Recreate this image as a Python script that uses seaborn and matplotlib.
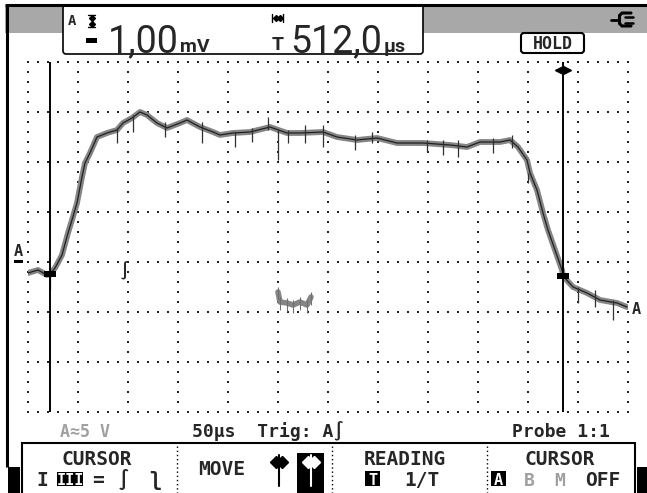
import matplotlib
matplotlib.use("Agg")
import matplotlib.pyplot as plt
from matplotlib import font_manager
from matplotlib.patches import Rectangle, FancyBboxPatch
import numpy as np
import pandas as pd
import seaborn as sns

# scope trace: time in us (50 us/div), level in mV (1 mV/div)
trace_t = [0, 10, 19, 22, 27, 34, 40, 44, 49, 54, 57, 62, 69, 79, 89, 95, 104, 112,
           119, 129, 139, 152, 159, 172, 185, 192, 205, 222, 242, 259, 272, 295, 309,
           329, 349, 369, 395, 422, 439, 452, 472, 482, 490, 499, 502, 509, 515, 520,
           527, 534, 535, 545, 559, 572, 589, 599]
trace_mv = [-0.22, -0.16, -0.26, -0.24, -0.12, 0.14, 0.58, 0.84, 1.18, 1.70, 1.98, 2.18,
            2.50, 2.58, 2.64, 2.78, 2.88, 3.00, 2.94, 2.78, 2.68, 2.78, 2.84, 2.70, 2.60,
            2.54, 2.58, 2.60, 2.70, 2.58, 2.58, 2.60, 2.50, 2.44, 2.48, 2.38, 2.38, 2.34,
            2.30, 2.40, 2.40, 2.44, 2.30, 2.04, 1.78, 1.44, 0.98, 0.64, 0.24, -0.16,
            -0.28, -0.50, -0.62, -0.76, -0.82, -0.90]

# noise spikes on the trace
spike_t = [22, 89, 105, 137, 174, 207, 224, 240, 250, 260, 277, 295, 327, 344, 399,
           415, 430, 465, 484, 500, 550, 567, 585]
spike_hi = [-0.12, 2.68, 2.94, 2.80, 2.80, 2.60, 2.68, 2.90, 2.64, 2.64, 2.74, 2.74,
            2.54, 2.60, 2.44, 2.44, 2.44, 2.48, 2.54, 1.78, -0.50, -0.56, -0.76]
spike_lo = [-0.56, 2.38, 2.60, 2.50, 2.38, 2.30, 2.40, 2.64, 2.04, 2.38, 2.38, 2.30,
            2.24, 2.38, 2.20, 2.14, 2.10, 2.18, 2.28, 1.58, -0.82, -0.90, -1.16]

# grey reference fragment
ref_t = [250, 252, 259, 265, 272, 279, 283]
ref_mv = [-0.60, -0.80, -0.82, -0.86, -0.80, -0.86, -0.70]

cursor_t = [22, 535]
cursor_mv = [-0.24, -0.28]
trig_t = 97
trig_mv = -0.16

volts_div = "1,00"
time_delta = "512,0"

sns.set_theme(style="white")
plt.rcParams['font.family'] = ['DejaVu Sans']

names = {f.name for f in font_manager.fontManager.ttflist}
BIG = 'Roboto' if 'Roboto' in names else 'DejaVu Sans'
MONO = ['DejaVu Sans Mono', 'DejaVu Sans']
GREY = '#a8a8a8'
TRACE = '#858585'

fig = plt.figure(figsize=(6.47, 4.93), dpi=100)
fig.patch.set_facecolor('white')

# whole-screen axes in pixel units for the frame and soft keys
bg = fig.add_axes([0, 0, 1, 1])
bg.set_xlim(0, 647)
bg.set_ylim(493, 0)
bg.axis('off')

# header
bg.add_patch(Rectangle((5, 6), 642, 26.5, fc=GREY, ec='none'))
bg.plot([5, 647], [4.5, 4.5], color='black', lw=2.2, solid_capstyle='butt')
bg.plot([6.5, 6.5], [3.5, 467], color='black', lw=2.2, solid_capstyle='butt')
bg.add_patch(FancyBboxPatch((63, 5), 360, 49, boxstyle='round,pad=0,rounding_size=3',
                            fc='white', ec='black', lw=1.2))
bg.text(72, 25, 'A', fontfamily=MONO, fontweight='bold', fontsize=10, ha='center', va='baseline')
bg.plot([88, 95], [15, 15], color='black', lw=1)
bg.plot([88, 95], [27, 27], color='black', lw=1)
bg.plot([91.5, 91.5], [15, 27], color='black', lw=1)
bg.plot([91.5, 91.5], [18, 24], color='black', lw=0, marker='D', ms=3)
bg.add_patch(Rectangle((86, 38), 11, 4.5, fc='black', ec='none'))
bg.text(108, 52, volts_div, fontfamily=BIG, fontsize=27, ha='left', va='baseline')
bg.text(180, 52, 'mV', fontfamily=BIG, fontweight='bold', fontsize=14, ha='left', va='baseline')
bg.plot([272, 272], [14, 22], color='black', lw=1)
bg.plot([283, 283], [14, 22], color='black', lw=1)
bg.plot([274, 281], [18, 18], color='black', lw=1)
bg.plot([275.5, 279.5], [18, 18], color='black', lw=0, marker='D', ms=3)
bg.text(277.5, 50, 'T', fontfamily=BIG, fontweight='bold', fontsize=14, ha='center', va='baseline')
bg.text(290, 52, time_delta, fontfamily=BIG, fontsize=27, ha='left', va='baseline')
bg.text(384, 52, 'µs', fontfamily=BIG, fontweight='bold', fontsize=14, ha='left', va='baseline')

# mains plug icon
bg.plot([611, 619], [19.5, 19.5], color='black', lw=2)
bg.plot([631, 622, 619.5, 619.5, 622, 631], [13, 13, 15.5, 23.5, 26, 26], color='black',
        lw=2.2, solid_joinstyle='miter')
bg.plot([625, 633], [16.5, 16.5], color='black', lw=1.8)
bg.plot([625, 633], [22.5, 22.5], color='black', lw=1.8)

bg.add_patch(FancyBboxPatch((521, 33), 63, 20, boxstyle='round,pad=0,rounding_size=3',
                            fc='white', ec='black', lw=1.5))
bg.text(552.5, 49, 'HOLD', fontfamily=MONO, fontweight='bold', fontsize=12, ha='center', va='baseline')

# channel markers
bg.text(18.5, 256, 'A', fontfamily=MONO, fontweight='bold', fontsize=11, ha='center', va='baseline')
bg.add_patch(Rectangle((14, 259.5), 9, 3.5, fc='black', ec='none'))
bg.text(636, 314, 'A', fontfamily=MONO, fontweight='bold', fontsize=11, ha='center', va='baseline')

# status line
bg.text(85, 437, 'A≈5 V', fontfamily=MONO, fontweight='bold', fontsize=12, color='#a0a0a0',
        ha='center', va='baseline')
bg.text(268, 437, '50µs  Trig: A∫', fontfamily=MONO, fontweight='bold', fontsize=13,
        ha='center', va='baseline')
bg.text(561, 437, 'Probe 1:1', fontfamily=MONO, fontweight='bold', fontsize=13,
        ha='center', va='baseline')

# soft key bar
bg.add_patch(Rectangle((22, 443), 613, 60, fc='white', ec='black', lw=1.5))
bg.add_patch(Rectangle((8, 467), 12, 26, fc='black', ec='none'))
bg.add_patch(Rectangle((637, 467), 10, 26, fc='black', ec='none'))
for sx in [177, 332, 487]:
    bg.plot([sx, sx], [446, 493], color='black', lw=1, ls=(0, (1, 2)))

key = dict(fontfamily=MONO, fontweight='bold', fontsize=14, ha='center', va='baseline')
bg.text(97, 465, 'CURSOR', **key)
bg.text(42, 486, 'I', **key)
bg.add_patch(Rectangle((57, 472), 26, 14, fc='black', ec='none'))
bg.text(70, 485, 'III', fontfamily=MONO, fontweight='bold', fontsize=11, color='white',
        ha='center', va='baseline')
bg.text(98, 486, '=', **key)
bg.text(124, 486, '∫', **key)
bg.text(155, 486, 'ʅ', **key)

bg.text(222, 475, 'MOVE', **key)
bg.plot([279, 279], [455, 486], color='black', lw=1.5)
bg.plot([276, 282], [462, 462], color='black', lw=0, marker='D', ms=6)
bg.add_patch(Rectangle((297, 453), 27, 40, fc='black', ec='none'))
bg.plot([310.5, 310.5], [455, 486], color='white', lw=1.5)
bg.plot([307.5, 313.5], [462, 462], color='white', lw=0, marker='D', ms=6)

bg.text(405, 465, 'READING', **key)
bg.add_patch(Rectangle((365, 471), 15, 15, fc='black', ec='none'))
bg.text(372.5, 485, 'T', fontfamily=MONO, fontweight='bold', fontsize=11, color='white',
        ha='center', va='baseline')
bg.text(422, 486, '1/T', **key)

bg.text(560, 465, 'CURSOR', **key)
bg.add_patch(Rectangle((491, 471), 15, 15, fc='black', ec='none'))
bg.text(498.5, 485, 'A', fontfamily=MONO, fontweight='bold', fontsize=11, color='white',
        ha='center', va='baseline')
bg.text(529, 486, 'B', fontfamily=MONO, fontweight='bold', fontsize=13, color='#a0a0a0',
        ha='center', va='baseline')
bg.text(560, 486, 'M', fontfamily=MONO, fontweight='bold', fontsize=13, color='#a0a0a0',
        ha='center', va='baseline')
bg.text(603, 486, 'OFF', **key)

# graticule axes: 12 x 7 divisions
ax = fig.add_axes([28 / 647, 81 / 493, 600 / 647, 350 / 493])
ax.set_zorder(2)
ax.set_xlim(0, 600)
ax.set_ylim(-3, 4)
ax.axis('off')

hx = np.arange(0, 601, 10)
vy = np.linspace(-3, 4, 36)
gx = np.concatenate([np.tile(hx, 8), np.repeat(np.arange(0, 601, 50), len(vy))])
gy = np.concatenate([np.repeat(np.arange(-3, 5), len(hx)), np.tile(vy, 13)])
ax.scatter(gx, gy, marker='s', s=2.0, color='#222222', linewidths=0, clip_on=False)

df = pd.DataFrame({'t': trace_t, 'mv': trace_mv})
sns.lineplot(data=df, x='t', y='mv', sort=False, ax=ax, color=TRACE, lw=4.2, zorder=3)
sns.lineplot(data=df, x='t', y='mv', sort=False, ax=ax, color='#202020', lw=0.9, zorder=4)
ax.vlines(spike_t, spike_lo, spike_hi, color='#303030', lw=0.9, zorder=4)

ref = pd.DataFrame({'t': ref_t, 'mv': ref_mv})
sns.lineplot(data=ref, x='t', y='mv', sort=False, ax=ax, color=TRACE, lw=4, zorder=3)
ax.vlines(ref_t, np.array(ref_mv) - 0.15, np.array(ref_mv) + 0.1, color='#707070', lw=0.8, zorder=3)

for ct in cursor_t:
    ax.axvline(ct, color='black', lw=1.4, zorder=5)
rect = [(-1, -0.45), (1, -0.45), (1, 0.45), (-1, 0.45)]
sns.scatterplot(x=cursor_t, y=cursor_mv, marker=rect, s=75, color='black', linewidth=0,
                ax=ax, zorder=6)
ax.plot([cursor_t[1] - 4], [3.84], marker='<', color='black', ms=6, clip_on=False, zorder=6)
ax.plot([cursor_t[1] + 4], [3.84], marker='>', color='black', ms=6, clip_on=False, zorder=6)
ax.text(trig_t, trig_mv, '∫', fontfamily=MONO, fontweight='bold', fontsize=12,
        ha='center', va='center', zorder=6)

ax.set_xlabel('')
ax.set_ylabel('')
fig.savefig('out.png', dpi=100)
